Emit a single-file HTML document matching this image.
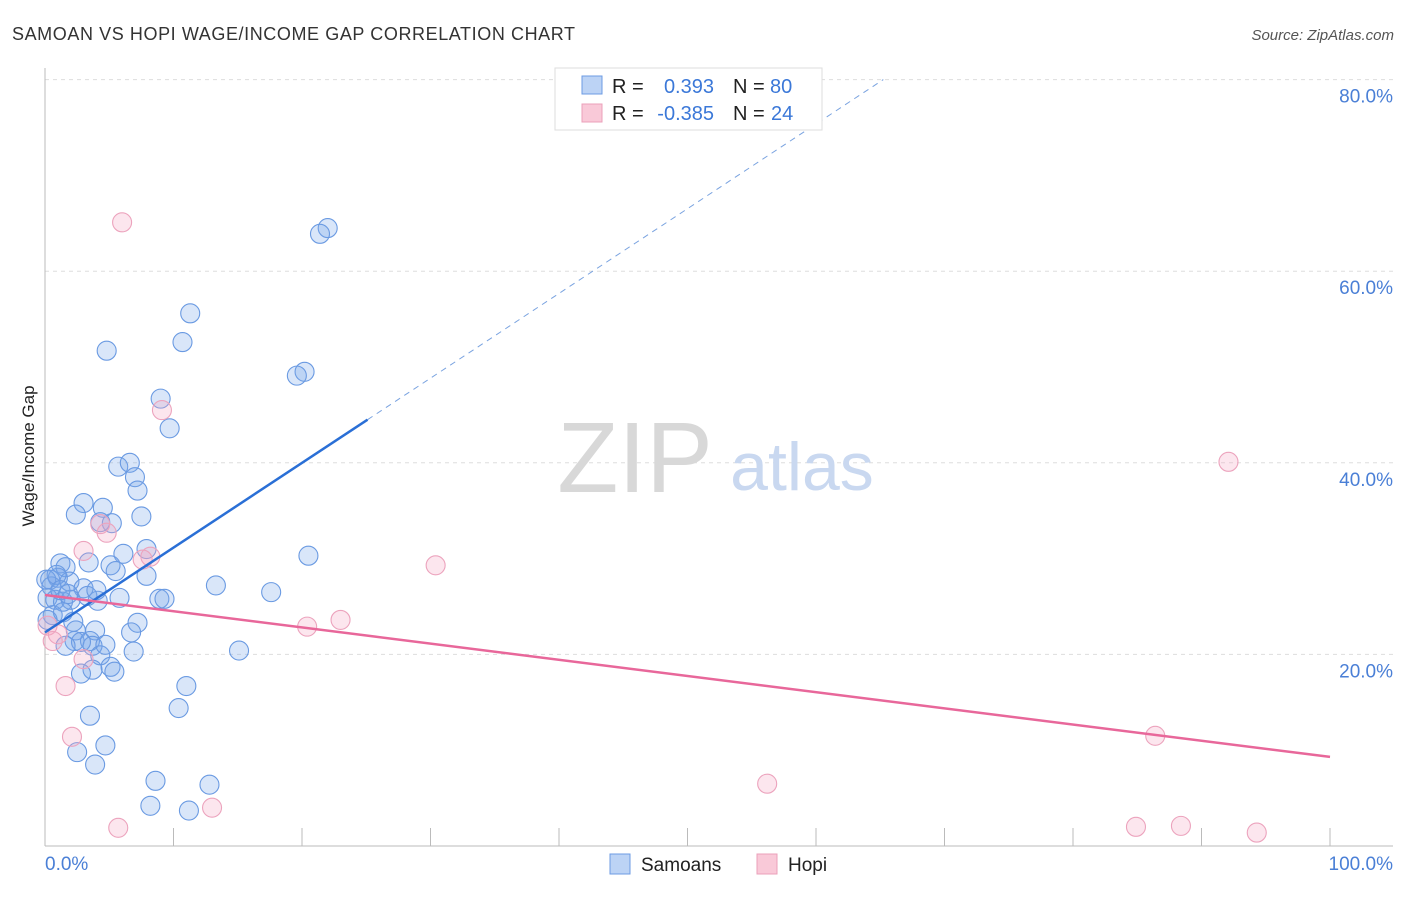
<!DOCTYPE html>
<html><head><meta charset="utf-8"><style>
body{margin:0;background:#fff;font-family:"Liberation Sans",sans-serif;}
svg text{font-family:"Liberation Sans",sans-serif;}
</style></head><body>
<svg id="chart" width="1406" height="892">
<text x="12" y="40" font-size="18" fill="#333" textLength="563" lengthAdjust="spacing">SAMOAN VS HOPI WAGE/INCOME GAP CORRELATION CHART</text>
<text x="1394" y="40" font-size="15" fill="#555" font-style="italic" text-anchor="end">Source: ZipAtlas.com</text>
<g id="grid"></g>
<text x="635" y="492" font-size="100" fill="#d8d8d8" font-family="Liberation Serif" text-anchor="middle">ZIP</text>
<text x="802" y="490" font-size="68" fill="#c9d8f0" text-anchor="middle">atlas</text>
<text transform="translate(34,456) rotate(-90)" font-size="17" fill="#222" text-anchor="middle">Wage/Income Gap</text>
<text x="45" y="870" font-size="19" fill="#4a7fd6">0.0%</text>
<text x="1393" y="870" font-size="19" fill="#4a7fd6" text-anchor="end">100.0%</text>
<g id="pts"></g>
<g id="lines"></g>
<g>
<rect x="555" y="68" width="267" height="62" fill="#fff" stroke="#ddd"/>
<rect x="582" y="76" width="20" height="18" fill="#bcd3f5" stroke="#6c9be3"/>
<rect x="582" y="104" width="20" height="18" fill="#f9c9d8" stroke="#eba0ba"/>
<text x="612" y="93" font-size="20" fill="#222">R =</text>
<text x="714" y="93" font-size="20" fill="#3b78d8" text-anchor="end">0.393</text>
<text x="733" y="93" font-size="20" fill="#222">N =</text>
<text x="770" y="93" font-size="20" fill="#3b78d8">80</text>
<text x="612" y="120" font-size="20" fill="#222">R =</text>
<text x="714" y="120" font-size="20" fill="#3b78d8" text-anchor="end">-0.385</text>
<text x="733" y="120" font-size="20" fill="#222">N =</text>
<text x="771" y="120" font-size="20" fill="#3b78d8">24</text>
</g>
<g>
<rect x="610" y="854" width="20" height="20" fill="#bcd3f5" stroke="#6c9be3"/>
<text x="641" y="871" font-size="19" fill="#222">Samoans</text>
<rect x="757" y="854" width="20" height="20" fill="#f9c9d8" stroke="#eba0ba"/>
<text x="788" y="871" font-size="19" fill="#222">Hopi</text>
</g>
</svg>
<script>
const yTicks=[20,40,60,80];
const yTickLabels=["20.0%","40.0%","60.0%","80.0%"];
const xTicks=[10,20,30,40,50,60,70,80,90,100];
const samoanX=[22.0,21.4,11.3,10.7,4.8,20.2,19.6,9.0,9.7,5.7,6.6,7.0,7.2,3.0,2.4,4.5,7.5,5.2,4.3,7.9,6.1,20.5,3.4,1.2,5.1,5.5,1.6,7.9,1.0,0.4,0.5,1.9,3.0,0.2,0.8,1.4,3.3,4.1,2.0,8.9,9.3,13.3,17.6,7.2,6.7,2.4,3.9,2.3,3.5,3.7,2.8,4.3,4.7,1.6,5.1,5.4,3.7,2.8,6.9,15.1,11.0,10.4,3.5,4.7,2.5,3.9,8.6,12.8,8.2,11.2,0.6,0.1,0.9,0.2,1.4,1.2,1.8,4.0,5.8,2.2];
const samoanY=[64.5,63.9,55.6,52.6,51.7,49.5,49.1,46.7,43.6,39.6,40.0,38.5,37.1,35.8,34.6,35.3,34.4,33.7,33.8,31.0,30.5,30.3,29.6,29.5,29.3,28.7,29.1,28.2,28.0,27.8,27.1,27.6,26.9,25.9,25.7,25.5,26.1,25.6,25.7,25.8,25.8,27.2,26.5,23.3,22.3,22.5,22.5,21.4,21.4,20.9,21.3,19.9,21.0,20.9,18.7,18.2,18.4,18.0,20.3,20.4,16.7,14.4,13.6,10.5,9.8,8.5,6.8,6.4,4.2,3.7,24.1,27.8,28.3,23.6,24.4,26.7,26.3,26.7,25.9,23.4];
const hopiX=[6.0,9.1,92.1,4.3,4.8,3.0,8.2,7.6,30.4,23.0,20.4,0.2,1.0,0.6,3.0,1.6,2.1,86.4,56.2,13.0,5.7,84.9,88.4,94.3];
const hopiY=[65.1,45.5,40.1,33.6,32.7,30.8,30.2,29.9,29.3,23.6,22.9,23.0,22.1,21.4,19.5,16.7,11.4,11.5,6.5,4.0,1.9,2.0,2.1,1.4];
const samoanTrend=[22.3,44.5];
const samoanTrendX=[0,25.1];
const hopiTrend=[26.2,9.3];
const hopiTrendX=[0,100];
const NS="http://www.w3.org/2000/svg";
const sx=v=>45+v*12.85, sy=v=>846-v*9.58;
function mk(tag,attrs,parent){const e=document.createElementNS(NS,tag);for(const k in attrs)e.setAttribute(k,attrs[k]);parent.appendChild(e);return e;}
const grid=document.getElementById('grid');
yTicks.forEach((t,i)=>{
 const l=mk('line',{x1:45,x2:1393,y1:sy(t),y2:sy(t),stroke:'#ddd','stroke-dasharray':'4,4'},grid);
 
 
 const tx=mk('text',{x:1393,y:sy(t)+23,'font-size':19,fill:'#4a7fd6','text-anchor':'end'},grid);
 tx.textContent=yTickLabels[i];
 
 
});
const ax=mk('line',{x1:45,x2:1393,y1:846,y2:846,stroke:'#bbb'},grid);


const ay=mk('line',{x1:45,x2:45,y1:68,y2:846,stroke:'#bbb'},grid);


xTicks.forEach(t=>{
 const l=mk('line',{x1:sx(t),x2:sx(t),y1:828,y2:846,stroke:'#bbb'},grid);
 
 
});
const pts=document.getElementById('pts');
samoanX.forEach((x,i)=>{
 const c=mk('circle',{cx:sx(x),cy:sy(samoanY[i]),r:9.5,fill:'rgba(120,165,235,0.28)',stroke:'#6a9ae2','stroke-width':1.1},pts);
 
 
});
hopiX.forEach((x,i)=>{
 const c=mk('circle',{cx:sx(x),cy:sy(hopiY[i]),r:9.5,fill:'rgba(245,165,195,0.28)',stroke:'#eca3bd','stroke-width':1.1},pts);
 
 
});
const lines=document.getElementById('lines');
const slope=(samoanTrend[1]-samoanTrend[0])/(samoanTrendX[1]-samoanTrendX[0]);
const xEnd=(80-samoanTrend[0])/slope;
const d=mk('line',{x1:sx(samoanTrendX[1]),y1:sy(samoanTrend[1]),x2:sx(xEnd),y2:sy(samoanTrend[0]+slope*xEnd),stroke:'#7aa3e0','stroke-width':1,'stroke-dasharray':'6,5'},lines);


const s=mk('line',{x1:sx(samoanTrendX[0]),y1:sy(samoanTrend[0]),x2:sx(samoanTrendX[1]),y2:sy(samoanTrend[1]),stroke:'#2a6fd6','stroke-width':2.5},lines);


const h=mk('line',{x1:sx(hopiTrendX[0]),y1:sy(hopiTrend[0]),x2:sx(hopiTrendX[1]),y2:sy(hopiTrend[1]),stroke:'#e8679a','stroke-width':2.5},lines);


</script>
</body></html>
